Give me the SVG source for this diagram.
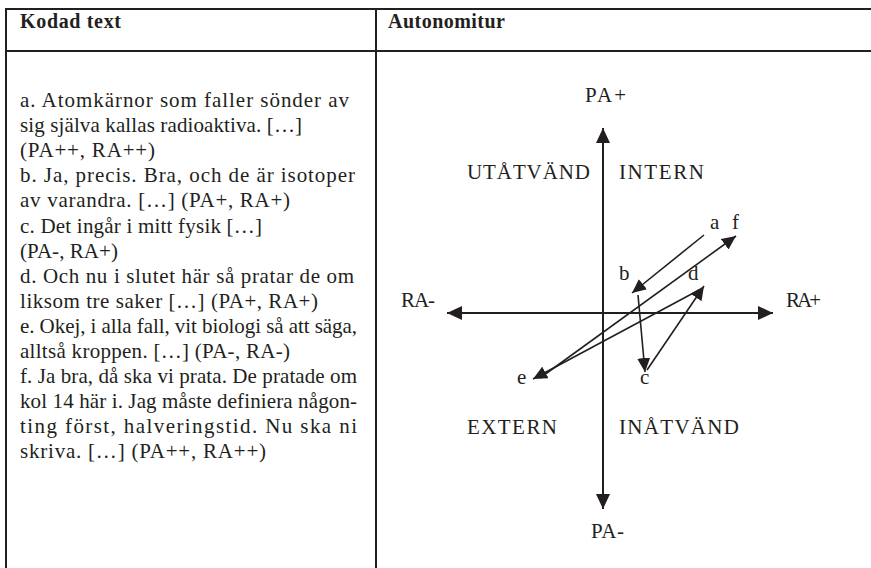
<svg xmlns="http://www.w3.org/2000/svg" width="871" height="568" viewBox="0 0 871 568">
<defs>
<style>
.t{font-family:"Liberation Serif","Times New Roman",serif;font-size:21px;fill:#231f20}
.h{font-family:"Liberation Serif","Times New Roman",serif;font-size:20px;font-weight:bold;fill:#231f20}
.rule{stroke:#231f20;stroke-width:2;fill:none}
.axis{stroke:#231f20;stroke-width:2;fill:none}
.arr{stroke:#231f20;stroke-width:1.6;fill:none}
</style>
<marker id="ah" markerUnits="userSpaceOnUse" markerWidth="16" markerHeight="14" refX="15" refY="7" orient="auto">
<path d="M0,0 L15,7 L0,14 z" fill="#231f20"/>
</marker>
<marker id="ahs" markerUnits="userSpaceOnUse" markerWidth="15" markerHeight="13" refX="14" refY="6.5" orient="auto">
<path d="M0,0 L14,6.5 L0,13 z" fill="#231f20"/>
</marker>
</defs>
<rect width="871" height="568" fill="#ffffff"/>
<g id="table">
<line class="rule" x1="5" y1="9" x2="871" y2="9"/>
<line class="rule" x1="5" y1="51" x2="871" y2="51"/>
<line class="rule" x1="6" y1="8" x2="6" y2="568"/>
<line class="rule" x1="376" y1="8" x2="376" y2="568"/>
<text class="h" x="20" y="28" textLength="101">Kodad text</text>
<text class="h" x="388" y="28" textLength="117">Autonomitur</text>
</g>
<g id="coded-text">
<text class="t" x="20" y="107" textLength="329">a. Atomkärnor som faller sönder av</text>
<text class="t" x="20" y="132" textLength="282">sig själva kallas radioaktiva. […]</text>
<text class="t" x="20" y="157" textLength="135">(PA++, RA++)</text>
<text class="t" x="20" y="182" textLength="335">b. Ja, precis. Bra, och de är isotoper</text>
<text class="t" x="20" y="207" textLength="270">av varandra. […] (PA+, RA+)</text>
<text class="t" x="20" y="233" textLength="242">c. Det ingår i mitt fysik […]</text>
<text class="t" x="20" y="258" textLength="98">(PA-, RA+)</text>
<text class="t" x="20" y="283" textLength="334">d. Och nu i slutet här så pratar de om</text>
<text class="t" x="20" y="308" textLength="298">liksom tre saker […] (PA+, RA+)</text>
<text class="t" x="20" y="333" textLength="337">e. Okej, i alla fall, vit biologi så att säga,</text>
<text class="t" x="20" y="358" textLength="270">alltså kroppen. […] (PA-, RA-)</text>
<text class="t" x="20" y="383" textLength="337">f. Ja bra, då ska vi prata. De pratade om</text>
<text class="t" x="20" y="408" textLength="337">kol 14 här i. Jag måste definiera någon-</text>
<text class="t" x="20" y="433" textLength="337">ting först, halveringstid. Nu ska ni</text>
<text class="t" x="20" y="458" textLength="246">skriva. […] (PA++, RA++)</text>
</g>
<g id="axes">
<line class="axis" x1="603" y1="313" x2="603" y2="128" marker-end="url(#ah)"/>
<line class="axis" x1="603" y1="313" x2="603" y2="509" marker-end="url(#ah)"/>
<line class="axis" x1="603" y1="313" x2="447" y2="313" marker-end="url(#ah)"/>
<line class="axis" x1="603" y1="313" x2="773" y2="313" marker-end="url(#ah)"/>
</g>
<g id="axis-labels">
<text class="t" x="585" y="102" textLength="41">PA+</text>
<text class="t" x="591" y="538" textLength="33">PA-</text>
<text class="t" x="401" y="307" textLength="34">RA-</text>
<text class="t" x="786" y="307" textLength="35">RA+</text>
</g>
<g id="quadrants">
<text class="t" x="467" y="179" textLength="123">UTÅTVÄND</text>
<text class="t" x="619" y="179" textLength="85">INTERN</text>
<text class="t" x="467" y="434" textLength="90">EXTERN</text>
<text class="t" x="619" y="434" textLength="120">INÅTVÄND</text>
</g>
<g id="points">
<text class="t" x="710" y="229">a</text>
<text class="t" x="732" y="229">f</text>
<text class="t" x="619" y="280">b</text>
<text class="t" x="688" y="280">d</text>
<text class="t" x="517" y="384">e</text>
<text class="t" x="640" y="384">c</text>
</g>
<g id="connectors">
<line class="arr" x1="704" y1="235" x2="632" y2="293" marker-end="url(#ahs)"/>
<line class="arr" x1="638" y1="295" x2="645" y2="372" marker-end="url(#ahs)"/>
<line class="arr" x1="647" y1="370" x2="704" y2="286" marker-end="url(#ahs)"/>
<line class="arr" x1="699" y1="290" x2="533" y2="379" marker-end="url(#ahs)"/>
<line class="arr" x1="540" y1="378" x2="736" y2="236" marker-end="url(#ahs)"/>
</g>
</svg>
